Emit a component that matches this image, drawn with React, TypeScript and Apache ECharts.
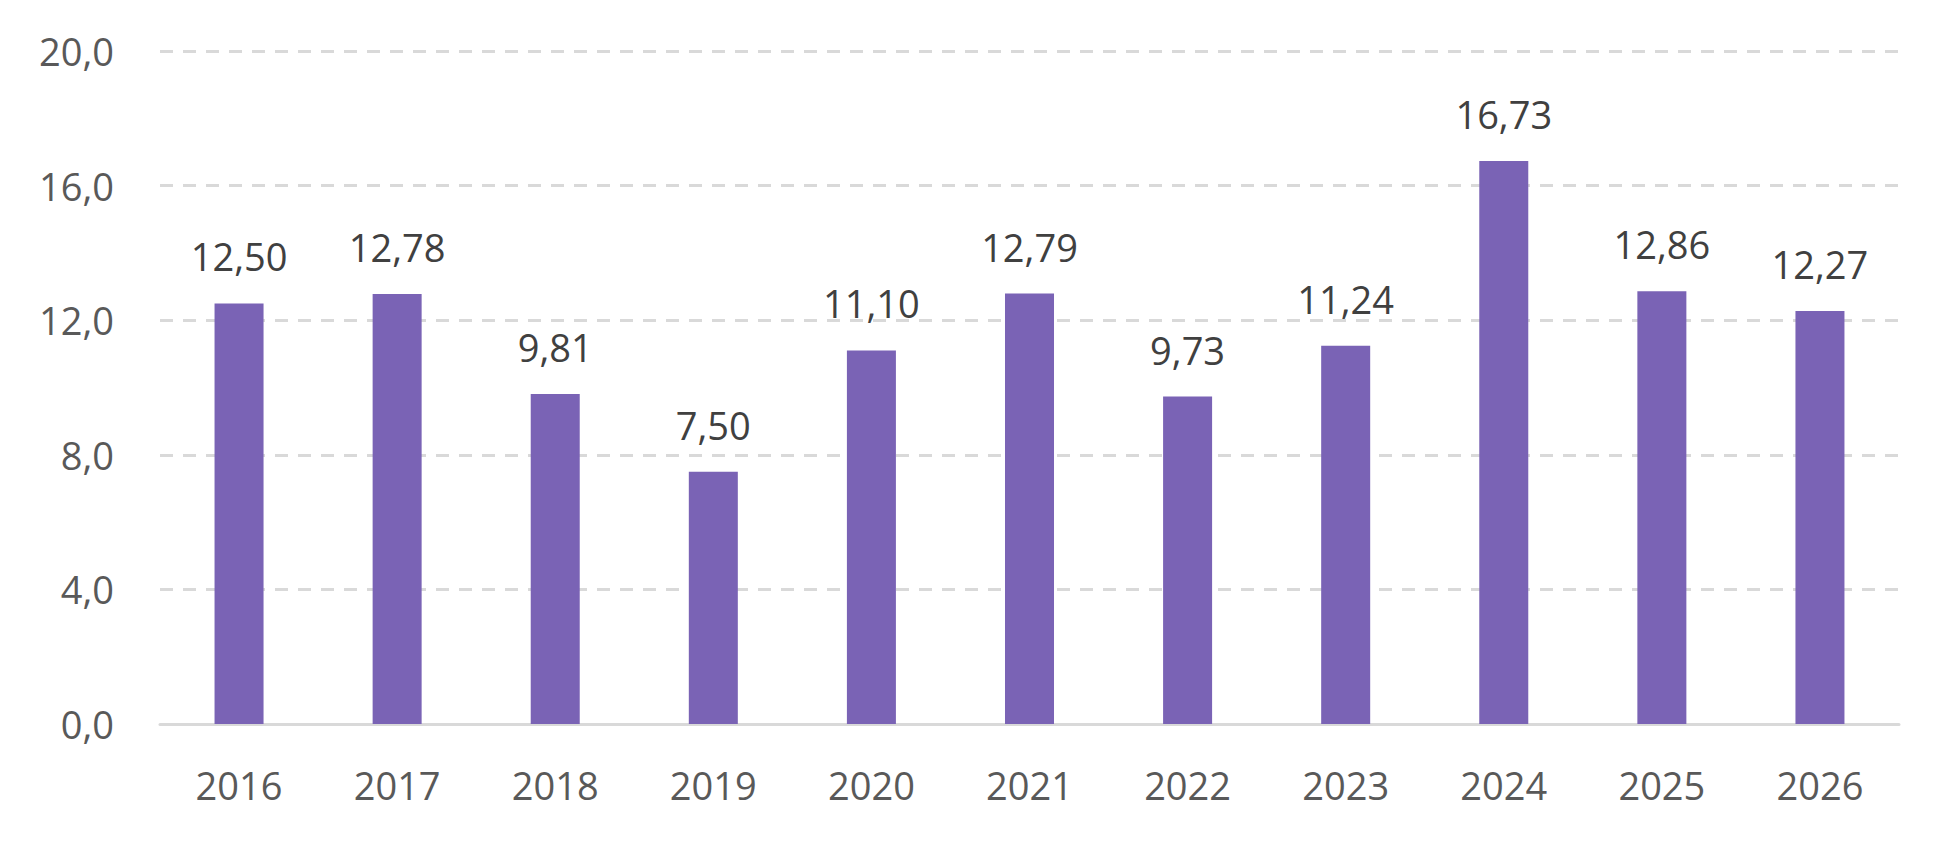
import { useEffect, useRef } from "react";
import * as echarts from "echarts";

const years = ["2016", "2017", "2018", "2019", "2020", "2021", "2022", "2023", "2024", "2025", "2026"];
const values = [12.5, 12.78, 9.81, 7.5, 11.1, 12.79, 9.73, 11.24, 16.73, 12.86, 12.27];

const yMin = 0;
const yMax = 20;
const yStep = 4;

const FONT = "'Open Sans', 'Noto Sans', sans-serif";
const BAR_COLOR = "#7A63B5";

const comma = (v: number, digits: number) => v.toFixed(digits).replace(".", ",");

export default function App() {
  const ref = useRef<HTMLDivElement>(null);

  useEffect(() => {
    document.body.style.margin = "0";
    const el = ref.current;
    if (!el) return;
    const chart = echarts.init(el, undefined, { renderer: "svg" });

    chart.setOption({
      animation: false,
      backgroundColor: "#ffffff",
      grid: { left: 160, right: 50, top: 51, bottom: 118 },
      xAxis: {
        type: "category",
        data: years,
        axisTick: { show: false },
        axisLine: { lineStyle: { color: "#D9D9D9", width: 3 } },
        axisLabel: { color: "#595959", fontSize: 38, fontFamily: FONT, margin: 42 },
      },
      yAxis: {
        type: "value",
        min: yMin,
        max: yMax,
        interval: yStep,
        axisLine: { show: false },
        axisTick: { show: false },
        axisLabel: {
          color: "#595959",
          fontSize: 38,
          fontFamily: FONT,
          margin: 46,
          formatter: (v: number) => comma(v, 1),
        },
        splitLine: { lineStyle: { color: "#D9D9D9", width: 3, type: [13, 10] } },
      },
      series: [
        {
          type: "bar",
          data: values,
          barWidth: "31%",
          itemStyle: { color: BAR_COLOR },
          label: {
            show: true,
            position: "top",
            distance: 28,
            color: "#404040",
            fontSize: 38,
            fontFamily: FONT,
            formatter: (p: { value: number }) => comma(p.value, 2),
          },
        },
      ],
    });

    return () => chart.dispose();
  }, []);

  return <div ref={ref} style={{ width: 1949, height: 842 }} />;
}
